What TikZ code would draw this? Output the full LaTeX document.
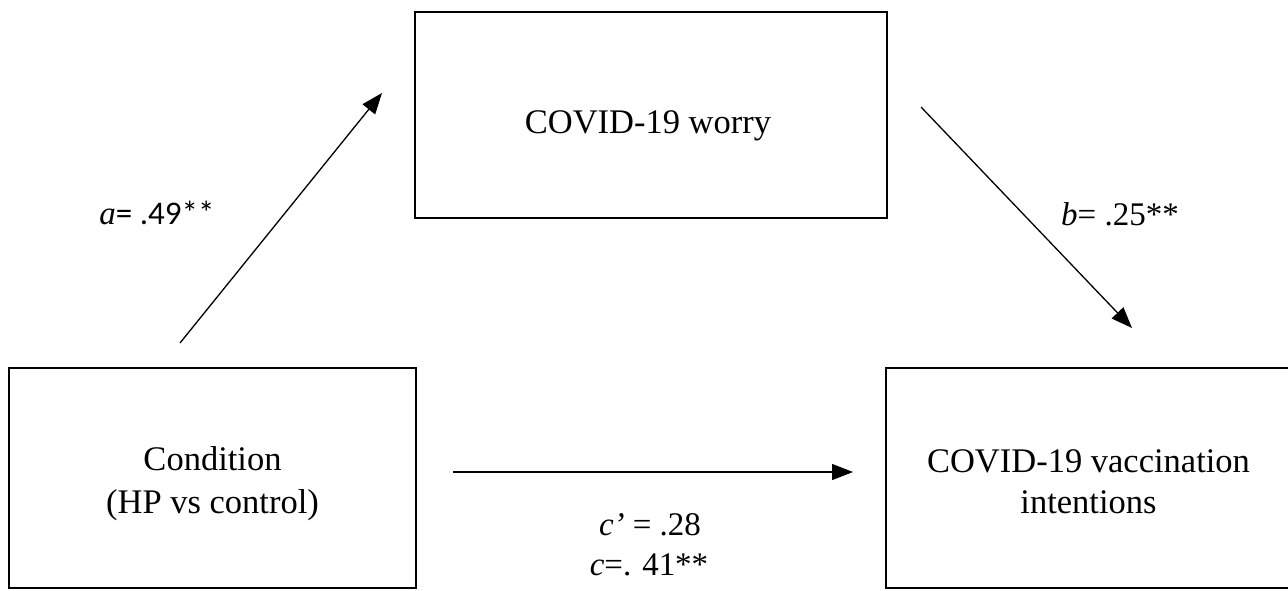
\documentclass[tikz,border=0pt]{standalone}
\usepackage{fontspec}
\setmainfont{Liberation Serif}
\newfontfamily\calib{Carlito}
\usetikzlibrary{arrows.meta}
\begin{document}
\begin{tikzpicture}[x=1pt,y=-1pt,
  boxst/.style={draw=black,line width=2pt,inner sep=0pt,minimum width=#1},
  txt/.style={anchor=base,inner sep=0pt,font=\fontsize{34.5}{41}\selectfont},
  lab/.style={anchor=base,inner sep=0pt,font=\fontsize{33}{40}\selectfont},
  arr/.style={line width=1.3pt,-{Triangle[length=21pt,width=16pt]}}]
\useasboundingbox (0,0) rectangle (1288,590);
\clip (0,0) rectangle (1288,590);
% boxes
\node[boxst=472pt,minimum height=206pt] (med) at (651,115) {};
\node[boxst=407pt,minimum height=220pt] (cond) at (212.5,478) {};
\node[boxst=407pt,minimum height=220pt] (out) at (1089.5,478) {};
% box texts
\node[txt] (medt) at (648,133) {COVID-19 worry};
\node[txt] (cond1) at (212.5,470) {Condition};
\node[txt] (cond2) at (212.5,513) {(HP vs control)};
\node[txt] (out1) at (1088.5,472) {COVID-19 vaccination};
\node[txt] (out2) at (1088.5,513) {intentions};
% arrow end points
\coordinate (as) at (180,343);
\coordinate (ae) at (382,93);
\coordinate (bs) at (921,107);
\coordinate (be) at (1132,328);
\coordinate (cs) at (453,472);
\coordinate (ce) at (853,472);
\draw[arr] (as) -- (ae);
\draw[arr] (bs) -- (be);
\draw[arr] (cs) -- (ce);
% labels
\node[lab] (la) at (157,224) {\textit{a}{\calib= .49**}};
\node[lab] (lb) at (1120,225) {\textit{b}= .25**};
\node[lab] (lc1) at (650,535) {\textit{c’} = .28};
\node[lab] (lc2) at (649,575) {\textit{c}=. 41**};
\end{tikzpicture}
\end{document}
